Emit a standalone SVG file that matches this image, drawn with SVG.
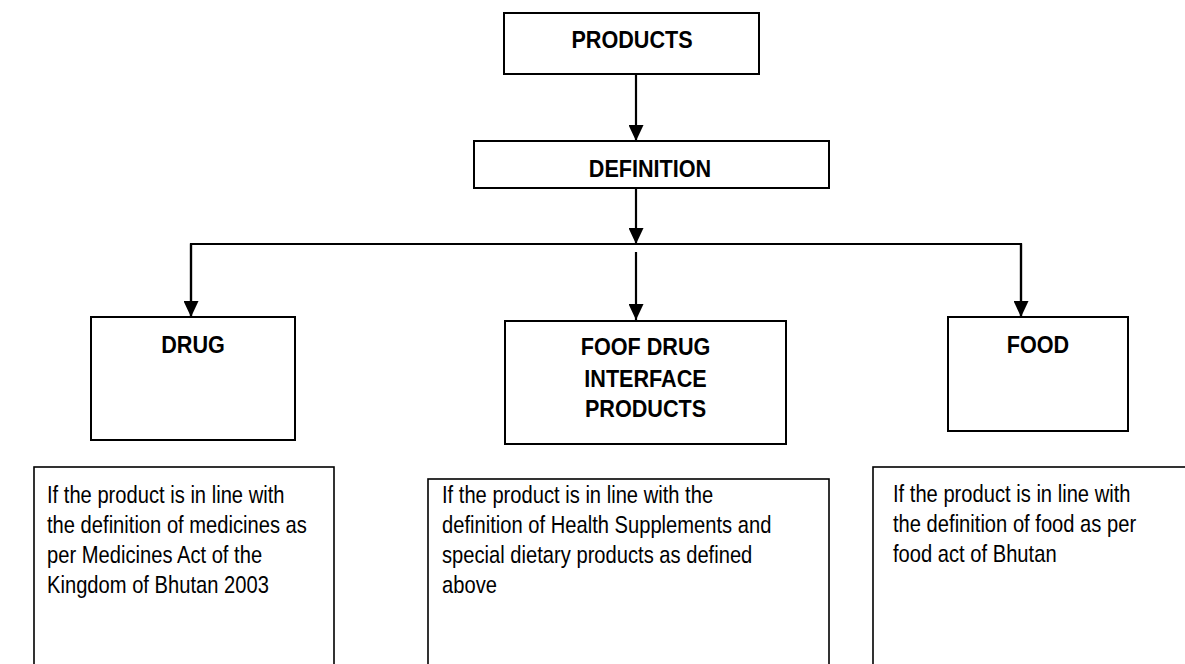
<svg xmlns="http://www.w3.org/2000/svg" width="1185" height="664" viewBox="0 0 1185 664">
<defs>
<style>
.box{fill:#fff;stroke:#000;stroke-width:2}
.tbox{fill:#fff;stroke:#000;stroke-width:1.6}
.lbl{font-family:"Liberation Sans",Arial,sans-serif;font-weight:bold;font-size:24px;fill:#000;text-anchor:middle}
.body{font-family:"Liberation Sans",Arial,sans-serif;font-size:24px;fill:#000}
.conn{fill:none;stroke:#000;stroke-width:2.2}
</style>
<marker id="ah" markerUnits="userSpaceOnUse" markerWidth="16" markerHeight="15" refX="16" refY="7.5" orient="auto">
<path d="M0,0 L16,7.5 L0,15 z" fill="#000"/>
</marker>
</defs>
<rect width="1185" height="664" fill="#fff"/>
<g id="connectors">
<line class="conn" x1="636" y1="74" x2="636" y2="141" marker-end="url(#ah)"/>
<line class="conn" x1="636" y1="188" x2="636" y2="244" marker-end="url(#ah)"/>
<polyline class="conn" points="191,317 191,244 1021,244 1021,317"/>
<line class="conn" x1="191" y1="244" x2="191" y2="317" marker-end="url(#ah)"/>
<line class="conn" x1="1021" y1="244" x2="1021" y2="317" marker-end="url(#ah)"/>
<line class="conn" x1="636" y1="252" x2="636" y2="320" marker-end="url(#ah)"/>
</g>
<g id="products">
<rect class="box" x="504" y="13" width="255" height="61"/>
<text class="lbl" transform="translate(632,48) scale(0.9,1)">PRODUCTS</text>
</g>
<g id="definition">
<rect class="box" x="474" y="141" width="355" height="47"/>
<text class="lbl" transform="translate(650,177) scale(0.9,1)">DEFINITION</text>
</g>
<g id="drug">
<rect class="box" x="91" y="317" width="204" height="123"/>
<text class="lbl" transform="translate(193,353) scale(0.9,1)">DRUG</text>
</g>
<g id="interface">
<rect class="box" x="505" y="321" width="281" height="123"/>
<text class="lbl" transform="translate(645.5,355) scale(0.9,1)">FOOF DRUG</text>
<text class="lbl" transform="translate(645.5,387) scale(0.9,1)">INTERFACE</text>
<text class="lbl" transform="translate(645.5,417) scale(0.9,1)">PRODUCTS</text>
</g>
<g id="food">
<rect class="box" x="948" y="317" width="180" height="114"/>
<text class="lbl" transform="translate(1038,353) scale(0.9,1)">FOOD</text>
</g>
<g id="drug-desc">
<rect class="tbox" x="34" y="467" width="300" height="220"/>
<text class="body" transform="translate(47,0) scale(0.84,1)"><tspan x="0" y="503">If the product is in line with</tspan><tspan x="0" y="533">the definition of medicines as</tspan><tspan x="0" y="563">per Medicines Act of the</tspan><tspan x="0" y="593">Kingdom of Bhutan 2003</tspan></text>
</g>
<g id="interface-desc">
<rect class="tbox" x="428" y="479" width="401" height="220"/>
<text class="body" transform="translate(442,0) scale(0.84,1)"><tspan x="0" y="503">If the product is in line with the</tspan><tspan x="0" y="533">definition of Health Supplements and</tspan><tspan x="0" y="563">special dietary products as defined</tspan><tspan x="0" y="593">above</tspan></text>
</g>
<g id="food-desc">
<rect class="tbox" x="873" y="467" width="340" height="220"/>
<text class="body" transform="translate(893,0) scale(0.84,1)"><tspan x="0" y="502">If the product is in line with</tspan><tspan x="0" y="532">the definition of food as per</tspan><tspan x="0" y="562">food act of Bhutan</tspan></text>
</g>
</svg>
